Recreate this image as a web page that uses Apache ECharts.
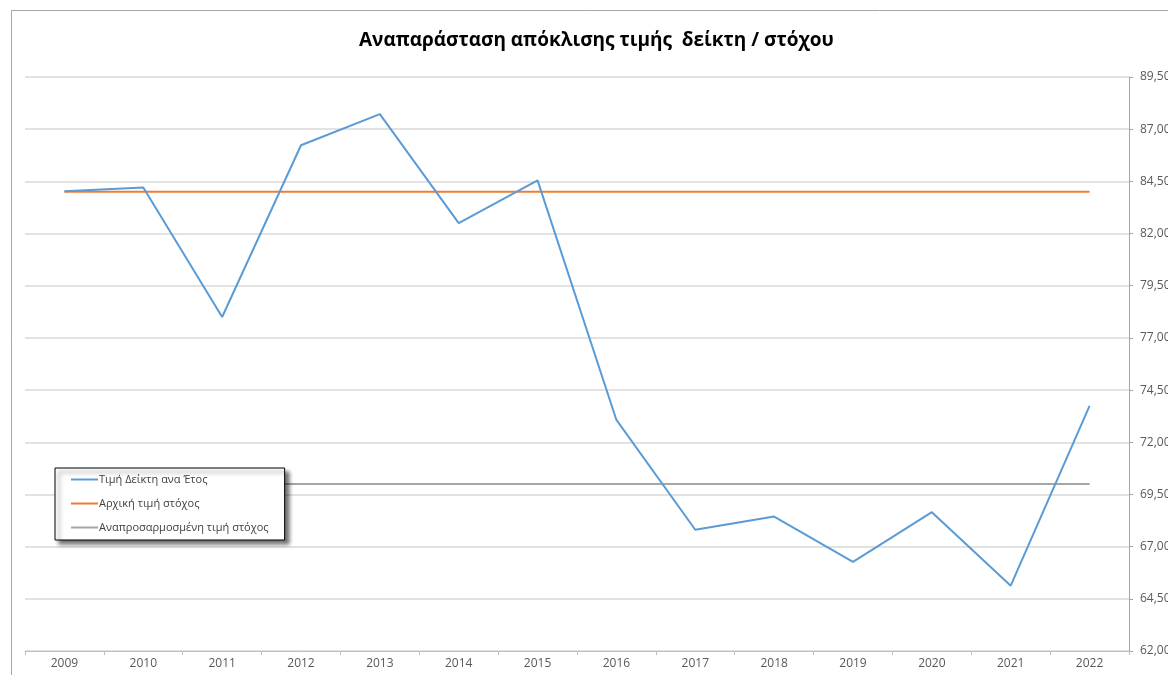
<!DOCTYPE html>
<html>
<head>
<meta charset="utf-8">
<script src="https://cdn.jsdelivr.net/npm/echarts@6/dist/echarts.min.js"></script>
<style>
html,body{margin:0;padding:0;background:#fff;}
#chart{width:1168px;height:675px;}
</style>
</head>
<body>
<div id="chart"></div>
<script>
// έτη
var years = ['2009','2010','2011','2012','2013','2014','2015','2016','2017','2018','2019','2020','2021','2022'];
// τιμή δείκτη ανά έτος
var indexValues = [84.03, 84.21, 78.0, 86.23, 87.72, 82.5, 84.55, 73.07, 67.81, 68.44, 66.27, 68.65, 65.13, 73.74];
// αρχική τιμή στόχου
var initialTarget = [84.0, 84.0, 84.0, 84.0, 84.0, 84.0, 84.0, 84.0, 84.0, 84.0, 84.0, 84.0, 84.0, 84.0];
// αναπροσαρμοσμένη τιμή στόχου
var adjustedTarget = [70.0, 70.0, 70.0, 70.0, 70.0, 70.0, 70.0, 70.0, 70.0, 70.0, 70.0, 70.0, 70.0, 70.0];
var yMin = 62, yMax = 89.5, yStep = 2.5;

var fontFam = '"Open Sans", "Noto Sans", sans-serif';
var myChart = echarts.init(document.getElementById('chart'));

var option = {
  animation: false,
  title: {
    text: 'Αναπαράσταση απόκλισης τιμής  δείκτη / στόχου',
    left: 354,
    top: 26,
    textStyle: {fontFamily: fontFam, fontSize: 19, fontWeight: 'bold', color: '#000'}
  },
  graphic: [{
    type: 'rect',
    shape: {x: 11.5, y: 10.5, width: 1200, height: 700},
    style: {fill: 'none', stroke: '#a6a6a6', lineWidth: 1},
    silent: true
  }],
  legend: {
    orient: 'vertical',
    left: 55,
    top: 468,
    itemWidth: 27,
    itemHeight: 2,
    itemGap: 13,
    padding: [6, 16, 7, 16],
    icon: 'rect',
    backgroundColor: '#fff',
    borderColor: '#000',
    borderWidth: 1,
    shadowColor: 'rgba(0,0,0,0.55)',
    shadowBlur: 4,
    shadowOffsetX: 4,
    shadowOffsetY: 4,
    textStyle: {fontFamily: fontFam, fontSize: 11, color: '#404040', padding: [0, 0, 0, -4]},
    data: ['Τιμή Δείκτη ανα Έτος', 'Αρχική τιμή στόχος', 'Αναπροσαρμοσμένη τιμή στόχος']
  },
  grid: {left: 25, right: 39, top: 77, bottom: 24, containLabel: false, outerBoundsMode: 'none'},
  xAxis: {
    type: 'category',
    data: years,
    boundaryGap: true,
    axisLine: {lineStyle: {color: '#bfbfbf', width: 1}},
    axisTick: {show: true, length: 4, lineStyle: {color: '#bfbfbf'}},
    axisLabel: {fontFamily: fontFam, fontSize: 12, color: '#595959', margin: 7}
  },
  yAxis: {
    type: 'value',
    position: 'right',
    min: yMin,
    max: yMax,
    interval: yStep,
    axisLine: {show: true, lineStyle: {color: '#a6a6a6', width: 1}},
    axisTick: {show: true, length: 4, lineStyle: {color: '#a6a6a6'}},
    splitLine: {lineStyle: {color: '#d9d9d9', width: 1.5}},
    axisLabel: {
      fontFamily: fontFam, fontSize: 12, color: '#595959', margin: 11,
      formatter: function (v) { return v.toFixed(2).replace('.', ','); }
    }
  },
  series: [{
    name: 'Τιμή Δείκτη ανα Έτος',
    type: 'line',
    data: indexValues,
    showSymbol: false,
    symbol: 'none',
    lineStyle: {color: '#5b9bd5', width: 2},
    itemStyle: {color: '#5b9bd5'},
    z: 4
  }, {
    name: 'Αρχική τιμή στόχος',
    type: 'line',
    data: initialTarget,
    showSymbol: false,
    symbol: 'none',
    lineStyle: {color: '#ed7d31', width: 2},
    itemStyle: {color: '#ed7d31'},
    z: 3
  }, {
    name: 'Αναπροσαρμοσμένη τιμή στόχος',
    type: 'line',
    data: adjustedTarget,
    showSymbol: false,
    symbol: 'none',
    lineStyle: {color: '#a5a5a5', width: 2},
    itemStyle: {color: '#a5a5a5'},
    z: 3
  }]
};
myChart.setOption(option);
</script>
</body>
</html>
